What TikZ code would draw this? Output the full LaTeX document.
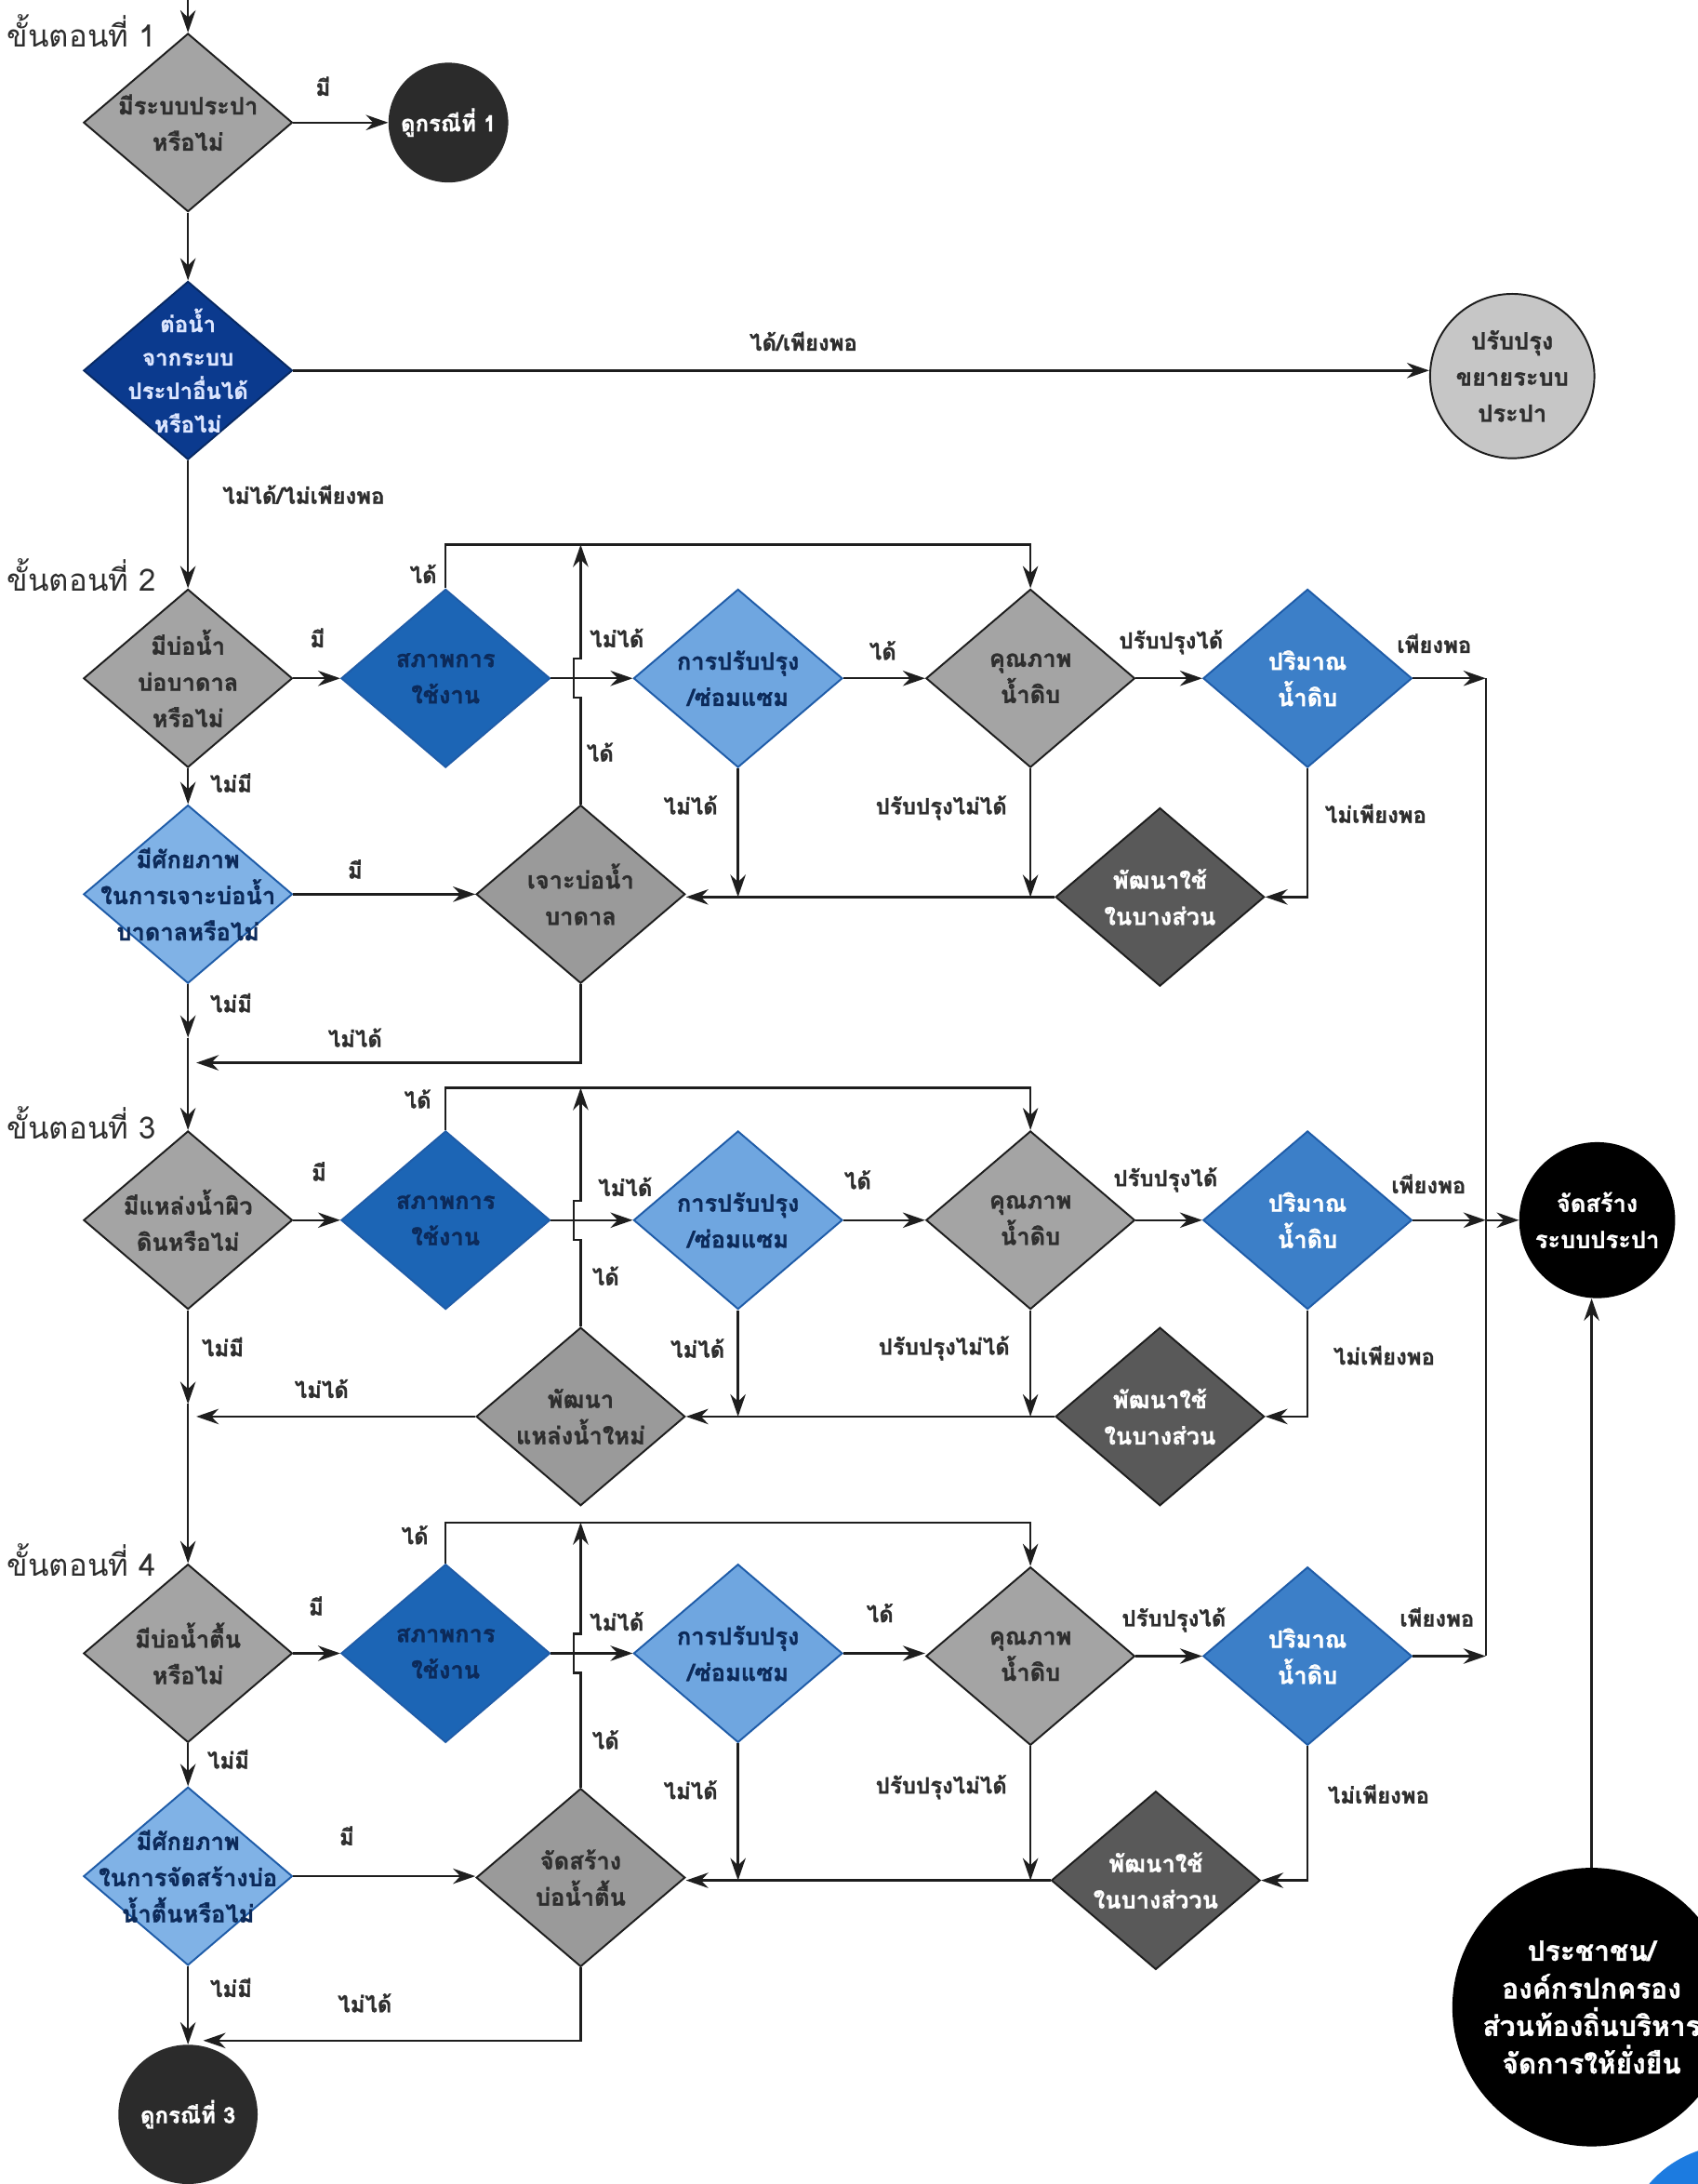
\documentclass[tikz,border=0pt]{standalone}
\usepackage{fontspec}
\newfontfamily\thaifont[Script=Thai, BoldFeatures={FakeBold=1.2}]{Loma}
\usetikzlibrary{shapes.geometric,arrows.meta,calc}
\definecolor{lnc}{HTML}{1E1E1E}
\definecolor{gry}{HTML}{A4A4A4}
\definecolor{gryb}{HTML}{9A9A9A}
\definecolor{dgry}{HTML}{595959}
\definecolor{navy}{HTML}{0B3A8E}
\definecolor{mblue}{HTML}{1C65B5}
\definecolor{lblue}{HTML}{6FA6E0}
\definecolor{qblue}{HTML}{3C7FC8}
\definecolor{pblue}{HTML}{80B2E6}
\definecolor{bord}{HTML}{1F5CA8}
\definecolor{ntxt}{HTML}{0C2A5A}
\definecolor{dtxt}{HTML}{2E2E2E}
\definecolor{pale}{HTML}{DCE6FF}
\definecolor{circd}{HTML}{2B2B2B}
\definecolor{ltgry}{HTML}{C6C6C6}
\definecolor{corner}{HTML}{1C7BE0}
\newcommand\mkdia[5]{\node[dia,#1] (#2) at (#3) {};\node[tx,#4] (#2t) at (#2) {#5};}
\begin{document}
\begin{tikzpicture}[x=1pt,y=-1pt,
  dia/.style={shape=diamond, minimum width=150pt, minimum height=128pt, inner sep=0pt, line width=1.3pt},
  gd/.style={fill=gry, draw=lnc},
  hd/.style={fill=dgry, draw=lnc},
  nd/.style={fill=navy, draw=navy!70!black},
  bd/.style={fill=mblue, draw=bord},
  lb/.style={fill=lblue, draw=bord},
  qd/.style={fill=qblue, draw=bord},
  pd/.style={fill=pblue, draw=bord},
  tx/.style={align=center, inner sep=0pt, font=\thaifont\bfseries\fontsize{17}{26}\selectfont},
  tdark/.style={text=dtxt},
  tnavy/.style={text=ntxt},
  twhite/.style={text=white},
  tpale/.style={text=pale},
  lab/.style={inner sep=0pt, text=dtxt, font=\thaifont\bfseries\fontsize{16}{18}\selectfont},
  hdr/.style={anchor=west, inner sep=0pt, text=dtxt, font=\thaifont\fontsize{22}{26}\selectfont},
  ln/.style={line width=1.6pt, draw=lnc},
  arr/.style={ln, -{Stealth[length=16pt,width=11pt]}},
  circ/.style={circle, inner sep=0pt, align=center, font=\thaifont\bfseries\fontsize{17}{26}\selectfont}
]
\useasboundingbox (0,0) rectangle (1219,1568);
\fill[white] (0,0) rectangle (1219,1568);

% ---------------- Stage 1 ----------------
\node[hdr] (h1) at (5,22) {ขั้นตอนที่ 1};
\mkdia{gd}{d1}{135,88}{tdark}{มีระบบประปา\\หรือไม่}
\node[circ, fill=circd, text=white, minimum size=86pt, font=\thaifont\bfseries\fontsize{16}{24}\selectfont] (c1) at (322,88) {ดูกรณีที่ 1};
\mkdia{nd}{d2}{135,266}{tpale,font=\thaifont\bfseries\fontsize{16}{24}\selectfont}{ต่อน้ำ\\จากระบบ\\ประปาอื่นได้\\หรือไม่}
\node[circ, fill=ltgry, draw=lnc, line width=1.3pt, text=dtxt, minimum size=118pt] (e1) at (1086,270) {ปรับปรุง\\ขยายระบบ\\ประปา};
\coordinate (top0) at (135,0);
\draw[arr] (top0) -- (d1.north);
\draw[arr] (d1.east) -- (c1.west);
\draw[arr] (d1.south) -- (d2.north);
\draw[arr] (d2.east) -- (d2.east -| e1.west);
\node[lab] (l1a) at (232,62) {มี};
\node[lab] (l1b) at (577,245) {ได้/เพียงพอ};
\node[lab] (l1c) at (218,355) {ไม่ได้/ไม่เพียงพอ};

% ---------------- Stage 2 ----------------
\node[hdr] (h2) at (5,413) {ขั้นตอนที่ 2};
\mkdia{gd}{s2a}{135,487}{tdark}{มีบ่อน้ำ\\บ่อบาดาล\\หรือไม่}
\mkdia{bd}{s2b}{320,487}{tnavy}{สภาพการ\\ใช้งาน}
\mkdia{lb}{s2c}{530,487}{tnavy}{การปรับปรุง\\/ซ่อมแซม}
\mkdia{gd}{s2d}{740,487}{tdark}{คุณภาพ\\น้ำดิบ}
\mkdia{qd}{s2e}{939,487}{twhite}{ปริมาณ\\น้ำดิบ}
\mkdia{pd}{s2f}{135,642}{tnavy}{มีศักยภาพ\\ในการเจาะบ่อน้ำ\\บาดาลหรือไม่}
\mkdia{gd,fill=gryb}{s2g}{417,642}{tdark}{เจาะบ่อน้ำ\\บาดาล}
\mkdia{hd}{s2h}{833,644}{twhite}{พัฒนาใช้\\ในบางส่วน}
\coordinate (L2) at (530,391);
\coordinate (col2) at (1067,487);
\coordinate (col3) at (1067,876);
\coordinate (col4) at (1067,1189);
\coordinate (m2) at (135,745);
\coordinate (r2) at (141,763);
\draw[arr] (d2.south) -- (s2a.north);
\draw[arr] (s2a.east) -- (s2b.west);
\draw[arr] (s2b.north) |- (L2) -| (s2d.north);
\draw[arr] (s2b.east) -- (s2c.west);
\draw[arr] (s2c.east) -- (s2d.west);
\draw[arr] (s2d.east) -- (s2e.west);
\draw[arr] (s2e.east) -- (col2);
\draw[ln] (col2) -- (col4);
\draw[arr] (s2a.south) -- (s2f.north);
\draw[arr] (s2f.east) -- (s2g.west);
\draw[arr] (s2h.west) -- (s2h.west -| s2g.east);
\draw[arr] (s2c.south) -- (s2c.south |- s2h.west);
\draw[arr] (s2d.south) -- (s2d.south |- s2h.west);
\draw[arr] (s2e.south) |- (s2h.east);
\draw[arr] (s2g.north) -- ($(s2g.north |- s2b.east)+(0,14)$) -- ++(-5,0) -- ++(0,-28) -- ++(5,0) -- (s2g.north |- L2);
\draw[arr] (s2g.south) |- (r2);
\draw[arr] (s2f.south) -- (m2);
\node[lab] (l2a) at (228,458) {มี};
\node[lab] (l2b) at (304,412) {ได้};
\node[lab] (l2c) at (443,458) {ไม่ได้};
\node[lab] (l2d) at (431,540) {ได้};
\node[lab] (l2e) at (634,467) {ได้};
\node[lab] (l2f) at (841,461) {ปรับปรุงได้};
\node[lab] (l2g) at (1030,462) {เพียงพอ};
\node[lab] (l2h) at (166,562) {ไม่มี};
\node[lab] (l2i) at (496,578) {ไม่ได้};
\node[lab] (l2j) at (676,580) {ปรับปรุงไม่ได้};
\node[lab] (l2k) at (988,584) {ไม่เพียงพอ};
\node[lab] (l2l) at (255,624) {มี};
\node[lab] (l2m) at (166,720) {ไม่มี};
\node[lab] (l2n) at (255,745) {ไม่ได้};

% ---------------- Stage 3 ----------------
\node[hdr] (h3) at (5,806) {ขั้นตอนที่ 3};
\mkdia{gd}{s3a}{135,876}{tdark}{มีแหล่งน้ำผิว\\ดินหรือไม่}
\mkdia{bd}{s3b}{320,876}{tnavy}{สภาพการ\\ใช้งาน}
\mkdia{lb}{s3c}{530,876}{tnavy}{การปรับปรุง\\/ซ่อมแซม}
\mkdia{gd}{s3d}{740,876}{tdark}{คุณภาพ\\น้ำดิบ}
\mkdia{qd}{s3e}{939,876}{twhite}{ปริมาณ\\น้ำดิบ}
\mkdia{gd,fill=gryb}{s3g}{417,1017}{tdark}{พัฒนา\\แหล่งน้ำใหม่}
\mkdia{hd}{s3h}{833,1017}{twhite}{พัฒนาใช้\\ในบางส่วน}
\node[circ, fill=black, text=white, minimum size=112pt] (js) at (1147,876) {จัดสร้าง\\ระบบประปา};
\coordinate (L3) at (530,781);
\coordinate (m3) at (135,1008);
\coordinate (r3) at (141,1017);
\draw[arr] (m2) -- (s3a.north);
\draw[arr] (s3a.east) -- (s3b.west);
\draw[arr] (s3b.north) |- (L3) -| (s3d.north);
\draw[arr] (s3b.east) -- (s3c.west);
\draw[arr] (s3c.east) -- (s3d.west);
\draw[arr] (s3d.east) -- (s3e.west);
\draw[arr] (s3e.east) -- (col3);
\draw[arr] (col3) -- (js.west);
\draw[arr] (s3h.west) -- (s3g.east);
\draw[arr] (s3c.south) -- (s3c.south |- s3h.west);
\draw[arr] (s3d.south) -- (s3d.south |- s3h.west);
\draw[arr] (s3e.south) |- (s3h.east);
\draw[arr] (s3g.north) -- ($(s3g.north |- s3b.east)+(0,14)$) -- ++(-5,0) -- ++(0,-28) -- ++(5,0) -- (s3g.north |- L3);
\draw[arr] (s3g.west) -- (r3);
\draw[arr] (s3a.south) -- (m3);
\node[lab] (l3a) at (229,841) {มี};
\node[lab] (l3b) at (300,789) {ได้};
\node[lab] (l3c) at (449,852) {ไม่ได้};
\node[lab] (l3d) at (435,916) {ได้};
\node[lab] (l3e) at (616,847) {ได้};
\node[lab] (l3f) at (837,847) {ปรับปรุงได้};
\node[lab] (l3g) at (1026,850) {เพียงพอ};
\node[lab] (l3h) at (160,967) {ไม่มี};
\node[lab] (l3i) at (501,968) {ไม่ได้};
\node[lab] (l3j) at (678,968) {ปรับปรุงไม่ได้};
\node[lab] (l3k) at (994,973) {ไม่เพียงพอ};
\node[lab] (l3l) at (231,997) {ไม่ได้};

% ---------------- Stage 4 ----------------
\node[hdr] (h4) at (5,1120) {ขั้นตอนที่ 4};
\mkdia{gd}{s4a}{135,1187}{tdark}{มีบ่อน้ำตื้น\\หรือไม่}
\mkdia{bd}{s4b}{320,1187}{tnavy}{สภาพการ\\ใช้งาน}
\mkdia{lb}{s4c}{530,1187}{tnavy}{การปรับปรุง\\/ซ่อมแซม}
\mkdia{gd}{s4d}{740,1189}{tdark}{คุณภาพ\\น้ำดิบ}
\mkdia{qd}{s4e}{939,1189}{twhite}{ปริมาณ\\น้ำดิบ}
\mkdia{pd}{s4f}{135,1347}{tnavy}{มีศักยภาพ\\ในการจัดสร้างบ่อ\\น้ำตื้นหรือไม่}
\mkdia{gd,fill=gryb}{s4g}{417,1348}{tdark}{จัดสร้าง\\บ่อน้ำตื้น}
\mkdia{hd}{s4h}{830,1350}{twhite}{พัฒนาใช้\\ในบางส่ววน}
\node[circ, fill=circd, text=white, minimum size=100pt, font=\thaifont\bfseries\fontsize{16}{24}\selectfont] (c3) at (135,1518) {ดูกรณีที่ 3};
\node[circ, fill=black, text=white, minimum size=200pt, font=\thaifont\bfseries\fontsize{20}{27}\selectfont] (big) at (1143,1441) {ประชาชน/\\องค์กรปกครอง\\ส่วนท้องถิ่นบริหาร\\จัดการให้ยั่งยืน};
\coordinate (L4) at (530,1093);
\coordinate (r4) at (146,1465);
\draw[arr] (m3) -- (s4a.north);
\draw[arr] (s4a.east) -- (s4b.west);
\draw[arr] (s4b.north) |- (L4) -| (s4d.north);
\draw[arr] (s4b.east) -- (s4c.west);
\draw[arr] (s4c.east) -- (s4c.east -| s4d.west);
\draw[arr] (s4d.east) -- (s4e.west);
\draw[arr] (s4e.east) -- (col4);
\draw[arr] (s4a.south) -- (s4f.north);
\draw[arr] (s4f.east) -- (s4f.east -| s4g.west);
\draw[arr] (s4h.west) -- (s4h.west -| s4g.east);
\draw[arr] (s4c.south) -- (s4c.south |- s4h.west);
\draw[arr] (s4d.south) -- (s4d.south |- s4h.west);
\draw[arr] (s4e.south) |- (s4h.east);
\draw[arr] (s4g.north) -- ($(s4g.north |- s4b.east)+(0,14)$) -- ++(-5,0) -- ++(0,-28) -- ++(5,0) -- (s4g.north |- L4);
\draw[arr] (s4g.south) |- (r4);
\draw[arr] (s4f.south) -- (c3.north);
\draw[arr] (big.north) -- (big.north |- js.south);
\node[lab] (l4a) at (227,1153) {มี};
\node[lab] (l4b) at (298,1102) {ได้};
\node[lab] (l4c) at (443,1164) {ไม่ได้};
\node[lab] (l4d) at (435,1249) {ได้};
\node[lab] (l4e) at (632,1158) {ได้};
\node[lab] (l4f) at (843,1163) {ปรับปรุงได้};
\node[lab] (l4g) at (1032,1161) {เพียงพอ};
\node[lab] (l4h) at (164,1263) {ไม่มี};
\node[lab] (l4i) at (496,1285) {ไม่ได้};
\node[lab] (l4j) at (676,1283) {ปรับปรุงไม่ได้};
\node[lab] (l4k) at (990,1288) {ไม่เพียงพอ};
\node[lab] (l4l) at (249,1318) {มี};
\node[lab] (l4m) at (166,1427) {ไม่มี};
\node[lab] (l4n) at (262,1438) {ไม่ได้};

% corner decoration
\fill[corner] (1245,1620) circle (80);
\end{tikzpicture}
\end{document}
